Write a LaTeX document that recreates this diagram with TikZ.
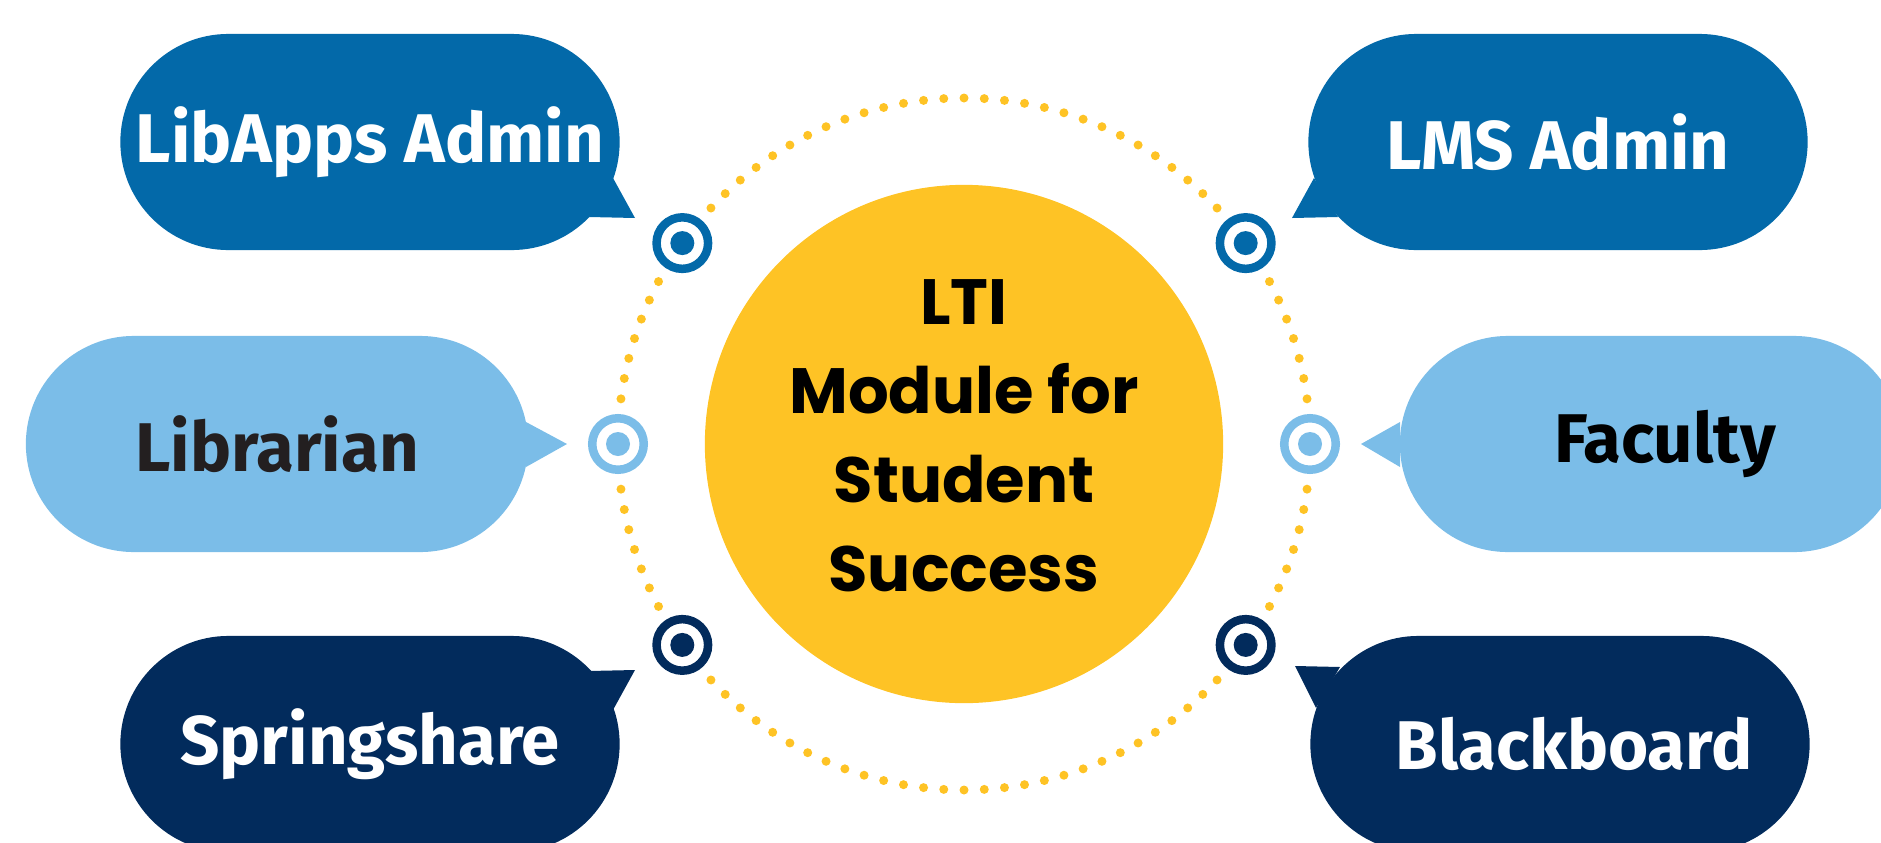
\documentclass[tikz,border=0pt]{standalone}
\usepackage{fontspec}
\setmainfont{Fira Sans}
\newfontfamily\hubfont{Poppins}
\usetikzlibrary{positioning,calc}
\definecolor{ltiblue}{HTML}{0369A9}
\definecolor{ltisky}{HTML}{7BBDE8}
\definecolor{ltinavy}{HTML}{022B5C}
\definecolor{ltigold}{HTML}{FEC325}
\definecolor{ltiink}{HTML}{231F20}

\begin{document}
\begin{tikzpicture}[x=0.01cm,y=-0.01cm,
    bubble/.style={rectangle,rounded corners=1.08cm,minimum width=4.99cm,minimum height=2.16cm,inner sep=0pt,font=\fontsize{19.6}{24}\selectfont\bfseries},
    target/.style={circle,draw=#1,fill=white,line width=0.085cm,minimum size=0.515cm,inner sep=0pt}]
    \useasboundingbox (0,0) rectangle (1881,842);
    \clip (0,0) rectangle (1881,842);

    % Hub
    \node[circle,fill=ltigold,minimum size=5.18cm,inner sep=0pt] (hub) at (964,444) {};
    \node[align=center,font=\hubfont\bfseries\fontsize{18.2}{25.3}\selectfont] (hubtext) at (964,436) {LTI\\Module for\\Student\\Success};

    % Dotted ring
    \foreach \a/\b/\n in {-35.5/0/7, 0/35.5/7, 35.5/144.5/29, 144.5/180/7, 180/215.5/7, 215.5/324.5/29}
      \foreach \k in {1,...,\n} {
        \pgfmathsetmacro\t{\a+7.5+(\b-\a-15)*(\k-1)/(\n-1)}
        \fill[ltigold] ($(hub.center)+(\t:346)$) circle (4.5);
      }

    % Targets
    \foreach \a/\c/\m in {-35.5/ltiblue/tlms, 0/ltisky/tfac, 35.5/ltinavy/tbb, 144.5/ltinavy/tspr, 180/ltisky/tlib, 215.5/ltiblue/tadm} {
      \node[target=\c] (\m) at ($(hub.center)+(\a:346)$) {};
      \fill[\c] (\m) circle (12);
    }

    % Left side
    \node[bubble,fill=ltiblue,text=white] (libapps) at (370,142) {LibApps Admin};
    \fill[ltiblue] (613,178) -- (635,218) -- (589,217) -- cycle;
    \node[bubble,fill=ltisky,text=ltiink,minimum width=5.02cm] (librarian) at (277,444) {Librarian};
    \fill[ltisky] (526,422) -- (567,444) -- (526,467) -- cycle;
    \node[bubble,fill=ltinavy,text=white] (springshare) at (370,744) {Springshare};
    \fill[ltinavy] (589,671) -- (635,670) -- (613,710) -- cycle;

    % Right side
    \node[bubble,fill=ltiblue,text=white] (lms) at (1558,142) {LMS Admin};
    \fill[ltiblue] (1314,178) -- (1292,218) -- (1338,217) -- cycle;
    \node[bubble,fill=ltisky,text=black,minimum width=5.02cm] (faculty) at (1651,444) {\hspace{8pt}Faculty};
    \fill[ltisky] (1400,422) -- (1361,444) -- (1400,467) -- cycle;
    \node[bubble,fill=ltinavy,text=white] (blackboard) at (1560,744) {\hspace{8pt}Blackboard};
    \fill[ltinavy] (1340,667) -- (1295,666) -- (1316,708) -- cycle;
\end{tikzpicture}
\end{document}
